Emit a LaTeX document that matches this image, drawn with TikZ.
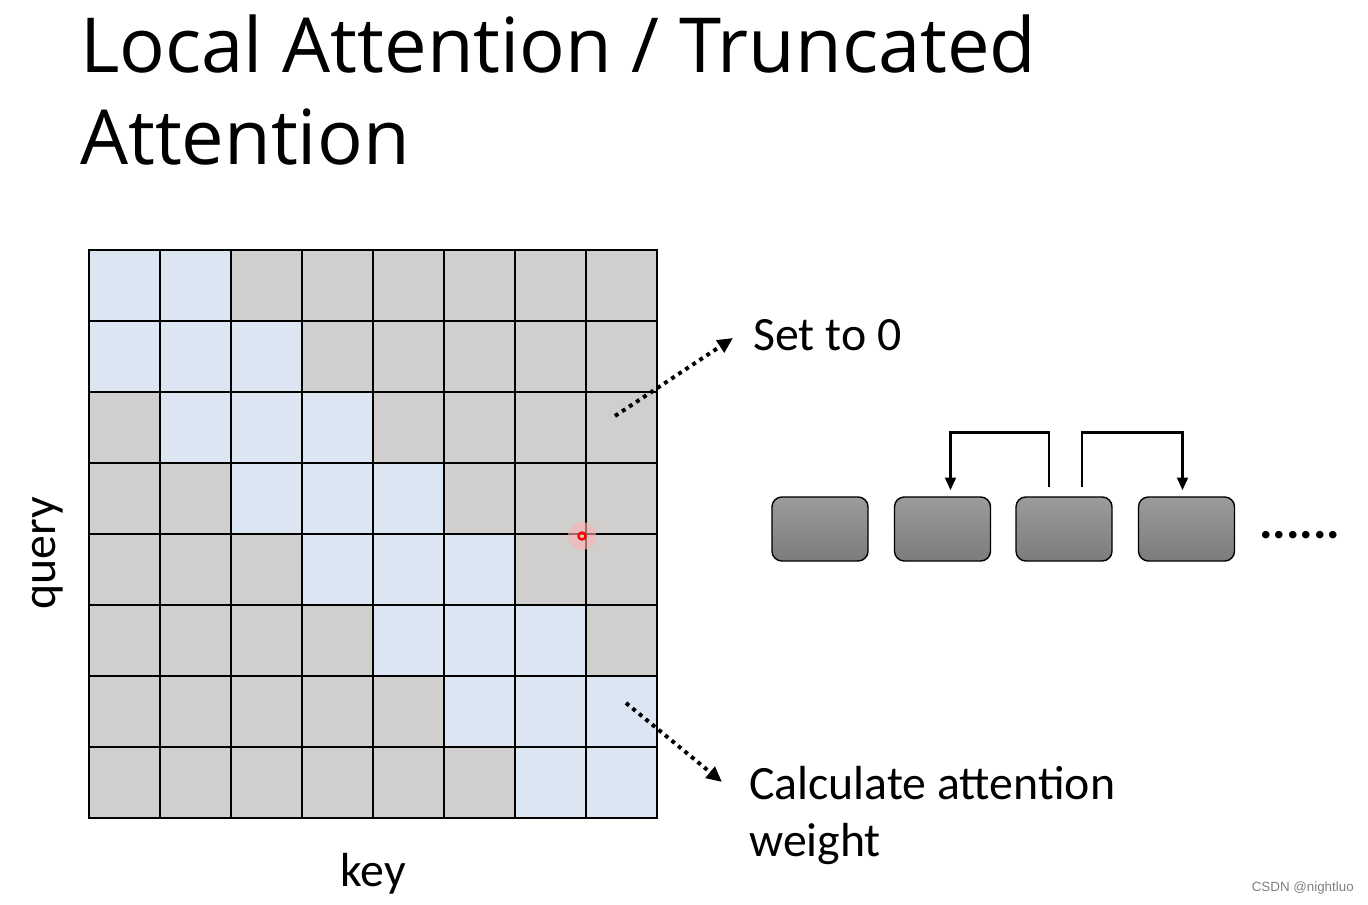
\documentclass[tikz,border=0pt]{standalone}
\usepackage{fontspec}
\setmainfont{Carlito}
\newfontfamily\titlefont{Open Sans}
\newfontfamily\markfont{Liberation Sans}
\usepackage{tikz}
\usetikzlibrary{arrows.meta}
\usetikzlibrary{positioning}
\usetikzlibrary{calc}
\definecolor{cellblue}{RGB}{220,230,242}
\definecolor{cellgray}{RGB}{208,207,206}
\definecolor{boxtop}{RGB}{156,156,156}
\definecolor{boxbot}{RGB}{124,124,124}

\begin{document}
\begin{tikzpicture}
    [x=0.025cm, y=-0.025cm,
     cell/.style={draw=black, line width=1.3pt, minimum size=1.775cm, inner sep=0pt},
     block/.style={draw=black, line width=1pt, rounded corners=7pt, minimum width=2.4cm,
       minimum height=1.6cm, top color=boxtop, bottom color=boxbot},
     link/.style={line width=2pt, -{Triangle[length=9pt, width=7.5pt]}},
     dotlink/.style={line width=2.8pt, dash pattern=on 2.8pt off 3.2pt,
       -{Triangle[length=11pt, width=10pt]}},
     label/.style={font=\fontsize{34}{40.5}\selectfont, inner sep=0pt}]
    \useasboundingbox (0,0) rectangle (1368,905);

    \node (title) [anchor=base west, align=left, inner sep=0pt,
      font=\titlefont\fontsize{54}{66}\selectfont] at (80,165)
      {Local Attention / Truncated\\Attention};

    \foreach \r in {0,...,7}
      \foreach \c in {0,...,7} {
        \pgfmathtruncatemacro\d{abs(\c-\r)}
        \ifnum\d<2 \def\cellcol{cellblue}\else\def\cellcol{cellgray}\fi
        \node (c-\r-\c) [cell, fill=\cellcol] at (124.5+71*\c, 285.5+71*\r) {};
      }

    \node (query) [label, rotate=90] at (48,553) {query};
    \node (key) [label] at (373,874) {key};

    \node (glow) [circle, fill=red!30, opacity=0.6, minimum size=0.7cm] at (582,536) {};
    \node (pointer) [circle, draw=red, line width=1.6pt, inner sep=1.8pt] at (582,536) {};

    \coordinate (s0) at (615,416);
    \coordinate (s1) at (626,703);
    \node (zero) [label, anchor=west] at (753,335) {Set to 0};
    \node (calc) [label, anchor=north west, align=left] at (749,766)
      {Calculate attention\\weight};
    \draw [dotlink] (s0) -- ($(zero.west)+(-20,3)$);
    \draw [dotlink] (s1) -- ($(calc.north west)+(-27,16)$);

    \node (b1) [block] at (820,529) {};
    \node (b2) [block] at (942.5,529) {};
    \node (b3) [block] at (1064,529) {};
    \node (b4) [block] at (1186.5,529) {};
    \node (more) [label, font=\bfseries\fontsize{36}{40}\selectfont, anchor=base west]
      at (1259,538) {......};

    \draw [link] ($(b3.north)+(-15,-9)$) -- ++(0,-55) -| ($(b2.north)+(8,-6)$);
    \draw [link] ($(b3.north)+(18,-9)$) -- ++(0,-55) -| ($(b4.north)+(-4,-6)$);

    \node (mark) [anchor=east, text=gray, inner sep=0pt,
      font=\markfont\fontsize{9.5}{11}\selectfont] at (1354,888) {CSDN @nightluo};
  \end{tikzpicture}
\end{document}
